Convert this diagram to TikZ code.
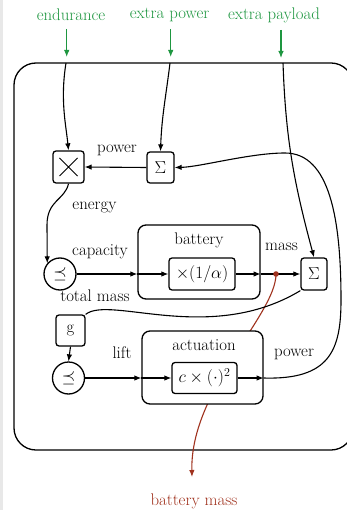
\documentclass[tikz,border=0pt]{standalone}
\usepackage{fontspec}
\usetikzlibrary{arrows.meta,calc}
\definecolor{grn}{RGB}{30,150,64}
\definecolor{rust}{RGB}{160,50,30}
\begin{document}
\begin{tikzpicture}[x=1pt,y=1pt,
  every node/.style={font=\fontsize{16.8}{20}\selectfont, inner sep=0pt},
  blk/.style={draw, line width=1.3pt, rounded corners=3pt, fill=white},
  grp/.style={draw, line width=1.3pt, rounded corners=8pt, fill=white},
  cir/.style={draw, circle, line width=1.3pt, minimum size=32pt, fill=white},
  conn/.style={line width=1.1pt},
  arr/.style={conn, -{Latex[length=7pt,width=5.5pt]}},
  garr/.style={arr, draw=grn},
  rarr/.style={arr, draw=rust},
]
\useasboundingbox (0,0) rectangle (346,-510);
\fill[gray!18] (0,0) rectangle (2.5,-510);
% outer frame
\draw[line width=1.3pt, rounded corners=22pt] (14,-63) rectangle (353,-450);

% external labels
\node[text=grn] (endu) at (71,-15) {endurance};
\node[text=grn] (xpow) at (169.5,-15) {extra power};
\node[text=grn] (xpay) at (274,-15) {extra payload};
\coordinate (g1a) at (66.7,-29); \coordinate (g1b) at (66.7,-57);
\coordinate (g2a) at (170.7,-29); \coordinate (g2b) at (170.7,-57);
\coordinate (g3a) at (281,-30); \coordinate (g3b) at (281,-58);
\draw[garr] (g1a) -- (g1b);
\draw[garr] (g2a) -- (g2b);
\draw[garr] (g3a) -- (g3b);

% nodes
\node[blk, minimum width=31pt, minimum height=32pt,
  path picture={\draw[line width=0.8pt]
    ([shift={(-9pt,-9pt)}]path picture bounding box.center) -- ([shift={(9pt,9pt)}]path picture bounding box.center)
    ([shift={(-9pt,9pt)}]path picture bounding box.center) -- ([shift={(9pt,-9pt)}]path picture bounding box.center);}]
  (mult) at (68.5,-167) {};
\node[blk, minimum width=27pt, minimum height=31pt] (sig1) at (160.5,-167.5) {$\Sigma$};
\node[cir] (pre1) at (60,-274) {$\preceq$};
\node[grp, minimum width=122pt, minimum height=74pt] (batt) at (199,-262) {};
\node (battl) at (199,-240) {battery};
\node[blk, minimum width=66pt, minimum height=32pt] (inv) at (202,-274) {$\times(1/\alpha)$};
\node[blk, minimum width=26pt, minimum height=32pt] (sig2) at (314,-274) {$\Sigma$};
\node[blk, minimum width=29pt, minimum height=31pt] (g) at (70.5,-330.5) {g};

% battery mass tap (behind actuation box)
\coordinate (dot) at (276,-274);
\coordinate (bm) at (192,-477);
\draw[rarr] (dot) .. controls (276,-315) and (190,-390) .. (bm);
\node[text=rust] (bml) at (194,-501) {battery mass};

\node[grp, minimum width=121pt, minimum height=73pt] (act) at (202.5,-367.5) {};
\node (actl) at (204,-345) {actuation};
\node[blk, minimum width=65pt, minimum height=31pt] (sq) at (204.5,-378) {$c\times(\cdot)^2$};
\node[cir] (pre2) at (68.5,-378) {$\preceq$};

% connector labels
\node (lpow1) at (117,-150) {power};
\node (lene) at (94.5,-207) {energy};
\node (lcap) at (100,-252) {capacity};
\node (ltm) at (95,-296) {total mass};
\node (lmass) at (281.5,-247) {mass};
\node (llift) at (122,-353) {lift};
\node (lpow2) at (294,-354) {power};

% connectors
\coordinate (t1) at (66,-63);
\coordinate (t2) at (170,-63);
\coordinate (t3) at (283,-63);
\draw[arr] (t1) .. controls (60,-100) and (66,-125) .. (mult.north);
\draw[arr] (t2) to[out=-97,in=88] (sig1.north);
\draw[arr] (t3) to[out=-88,in=105] (sig2.north);
\draw[arr] (sig1.west) -- (mult.east);
\draw[arr] (mult.south) .. controls (65,-200) and (47,-200) .. (47,-225) -- (pre1.140);
\draw[arr] (pre1.east) -- (pre1.east -| batt.west);
\draw[arr] (pre1.east -| batt.west) -- (inv.west);
\draw[arr] (inv.east) -- (inv.east -| batt.east);
\draw[arr] (inv.east -| batt.east) -- (sig2.west);
\draw[conn] (g.north east) .. controls (110,-295) and (210,-345) .. (sig2.south west);
\draw[arr] (g.south) -- (pre2.north);
\draw[arr] (pre2.east) -- (pre2.east -| act.west);
\draw[arr] (pre2.east -| act.west) -- (sq.west);
\draw[arr] (sq.east) -- (sq.east -| act.east);
\draw[arr] (sq.east -| act.east) .. controls (330,-380) and (341,-350) .. (341,-300)
   .. controls (341,-220) and (330,-153) .. (285,-153)
   .. controls (250,-153) and (200,-167) .. (sig1.east);
\fill[rust] (dot) circle (2.8pt);
\end{tikzpicture}
\end{document}
